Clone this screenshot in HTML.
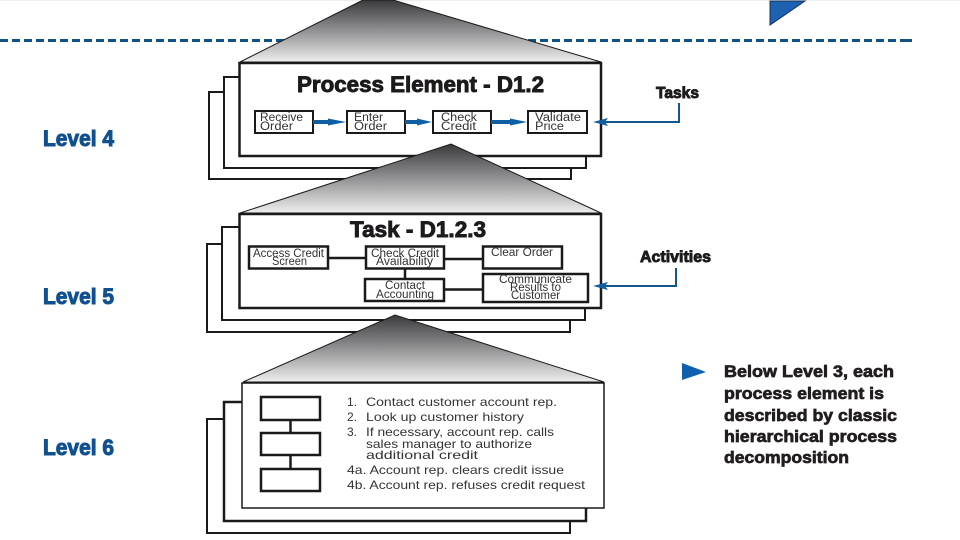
<!DOCTYPE html>
<html>
<head>
<meta charset="utf-8">
<style>
html,body{margin:0;padding:0;background:#fff}
svg{display:block}
text{font-family:"Liberation Sans",sans-serif}
.lv{font-size:22px;font-weight:bold;fill:#10508f;stroke:#10508f;stroke-width:1}
.t{font-weight:bold;fill:#1c1a1c;stroke:#1c1a1c;stroke-width:.9}
.s{font-size:11.5px;fill:#333}
.l{font-size:12px;fill:#333}
.r{font-size:17px;font-weight:bold;fill:#221e20;stroke:#221e20;stroke-width:.7}
</style>
</head>
<body>
<svg width="960" height="540" viewBox="0 0 960 540" xmlns="http://www.w3.org/2000/svg">
<defs>
<linearGradient id="g" x1="0" y1="0" x2="0" y2="1">
<stop offset="0" stop-color="#3a3a3c"/>
<stop offset=".5" stop-color="#929294"/>
<stop offset="1" stop-color="#eeeeee"/>
</linearGradient>
</defs>
<rect width="960" height="540" fill="#fff"/>
<rect x="0" y="0" width="960" height="1" fill="#eee"/>

<line x1="0" y1="40.5" x2="912" y2="40.5" stroke="#0f5287" stroke-width="3" stroke-dasharray="8 4"/>
<rect x="904" y="39" width="8" height="3" fill="#0f5287"/>
<polygon points="770,1 805,1 770,25" fill="#1c62b0" stroke="#17335c" stroke-width="1"/>

<text class="lv" x="43" y="146" textLength="71" lengthAdjust="spacingAndGlyphs">Level 4</text>
<text class="lv" x="43" y="304" textLength="71" lengthAdjust="spacingAndGlyphs">Level 5</text>
<text class="lv" x="43" y="455" textLength="71" lengthAdjust="spacingAndGlyphs">Level 6</text>

<!-- Level 4 stack -->
<g fill="#fff" stroke="#1a1a1a">
<rect x="209" y="92" width="362" height="87" stroke-width="2"/>
<rect x="224" y="77" width="362" height="91" stroke-width="2"/>
<rect x="239.500" y="63" width="361.500" height="93" stroke-width="2.500"/>
</g>
<polygon points="240,62 363,0 393,0 601,62" fill="url(#g)" stroke="#1a1a1a" stroke-width="1"/>
<text class="t" x="297" y="92" font-size="22" textLength="247" lengthAdjust="spacingAndGlyphs">Process Element - D1.2</text>
<g fill="#fff" stroke="#1a1a1a" stroke-width="2">
<rect x="255" y="111" width="58" height="22"/>
<rect x="347" y="111" width="58" height="22"/>
<rect x="433" y="111" width="58" height="22"/>
<rect x="528" y="111" width="59" height="22"/>
</g>
<g class="s">
<text class="s" x="260" y="121" textLength="43" lengthAdjust="spacingAndGlyphs">Receive</text>
<text class="s" x="260" y="130" textLength="33" lengthAdjust="spacingAndGlyphs">Order</text>
<text class="s" x="354" y="121" textLength="29" lengthAdjust="spacingAndGlyphs">Enter</text>
<text class="s" x="354" y="130" textLength="33" lengthAdjust="spacingAndGlyphs">Order</text>
<text class="s" x="441" y="121" textLength="36" lengthAdjust="spacingAndGlyphs">Check</text>
<text class="s" x="441" y="130" textLength="35" lengthAdjust="spacingAndGlyphs">Credit</text>
<text class="s" x="535" y="121" textLength="46" lengthAdjust="spacingAndGlyphs">Validate</text>
<text class="s" x="535" y="130" textLength="29" lengthAdjust="spacingAndGlyphs">Price</text>
</g>
<g fill="#0f5fa5">
<polygon points="313,120 328,120 328,118.500 346,122 328,125.500 328,124 313,124"/>
<polygon points="405,120 417,120 417,118.500 432,122 417,125.500 417,124 405,124"/>
<polygon points="491,120 510,120 510,118.500 527,122 510,125.500 510,124 491,124"/>
</g>

<!-- Level 5 stack -->
<g fill="#fff" stroke="#1a1a1a">
<rect x="207" y="244" width="363" height="88" stroke-width="2"/>
<rect x="222" y="227" width="363" height="93" stroke-width="2"/>
<rect x="239.500" y="214" width="361.500" height="94" stroke-width="2.500"/>
</g>
<polygon points="240,213 451,144 601,213" fill="url(#g)" stroke="#1a1a1a" stroke-width="1"/>
<text class="t" x="350" y="237" font-size="22" textLength="136" lengthAdjust="spacingAndGlyphs">Task - D1.2.3</text>
<g stroke="#1a1a1a" stroke-width="2.500" fill="none">
<line x1="328" y1="258" x2="366" y2="258"/>
<line x1="444" y1="259" x2="483" y2="259"/>
<line x1="405" y1="269" x2="405" y2="279"/>
<line x1="444" y1="289.500" x2="483" y2="289.500"/>
</g>
<g fill="#fff" stroke="#1a1a1a" stroke-width="2.500">
<rect x="249" y="246.500" width="79" height="22"/>
<rect x="366" y="246.500" width="78" height="22"/>
<rect x="483" y="246.500" width="79" height="22"/>
<rect x="365" y="279" width="79" height="22"/>
<rect x="483" y="274" width="105" height="28"/>
</g>
<text class="s" x="253" y="257" textLength="71" lengthAdjust="spacingAndGlyphs">Access Credit</text>
<text class="s" x="272" y="265" textLength="35" lengthAdjust="spacingAndGlyphs">Screen</text>
<text class="s" x="371" y="257" textLength="68" lengthAdjust="spacingAndGlyphs">Check Credit</text>
<text class="s" x="376" y="265" textLength="57" lengthAdjust="spacingAndGlyphs">Availability</text>
<text class="s" x="491" y="256" textLength="62" lengthAdjust="spacingAndGlyphs">Clear Order</text>
<text class="s" x="385" y="289" textLength="40" lengthAdjust="spacingAndGlyphs">Contact</text>
<text class="s" x="376" y="298" textLength="58" lengthAdjust="spacingAndGlyphs">Accounting</text>
<text class="s" x="499" y="283" textLength="73" lengthAdjust="spacingAndGlyphs">Communicate</text>
<text class="s" x="510" y="291" textLength="51" lengthAdjust="spacingAndGlyphs">Results to</text>
<text class="s" x="511" y="299" textLength="49" lengthAdjust="spacingAndGlyphs">Customer</text>

<!-- Level 6 stack -->
<g fill="#fff" stroke="#1a1a1a">
<rect x="207" y="419" width="363" height="114" stroke-width="2"/>
<rect x="224" y="402" width="362" height="119" stroke-width="2.500"/>
<rect x="242" y="383" width="362" height="125" stroke-width="1.500"/>
</g>
<polygon points="243,382 395,315 604,382" fill="url(#g)" stroke="#1a1a1a" stroke-width="1"/>
<g stroke="#1a1a1a" stroke-width="2.500">
<line x1="290.500" y1="420" x2="290.500" y2="433"/>
<line x1="290.500" y1="455" x2="290.500" y2="469"/>
</g>
<g fill="#fff" stroke="#1a1a1a" stroke-width="2.500">
<rect x="261" y="397" width="59" height="23"/>
<rect x="261" y="433" width="59" height="22"/>
<rect x="261" y="469" width="59" height="22"/>
</g>
<text class="l" x="347" y="406">1.</text>
<text class="l" x="366" y="406" textLength="191" lengthAdjust="spacingAndGlyphs">Contact customer account rep.</text>
<text class="l" x="347" y="421">2.</text>
<text class="l" x="366" y="421" textLength="158" lengthAdjust="spacingAndGlyphs">Look up customer history</text>
<text class="l" x="347" y="436">3.</text>
<text class="l" x="366" y="436" textLength="188" lengthAdjust="spacingAndGlyphs">If necessary, account rep. calls</text>
<text class="l" x="366" y="448" textLength="166" lengthAdjust="spacingAndGlyphs">sales manager to authorize</text>
<text class="l" x="366" y="459" textLength="112" lengthAdjust="spacingAndGlyphs">additional credit</text>
<text class="l" x="347" y="474" textLength="217" lengthAdjust="spacingAndGlyphs">4a. Account rep. clears credit issue</text>
<text class="l" x="347" y="489" textLength="238" lengthAdjust="spacingAndGlyphs">4b. Account rep. refuses credit request</text>

<!-- Callouts -->
<text class="t" x="656" y="98" font-size="16" textLength="43" lengthAdjust="spacingAndGlyphs">Tasks</text>
<polyline points="679,103 679,122 602,122" fill="none" stroke="#14578a" stroke-width="2"/>
<polygon points="593,122 608,118 605,122 608,126" fill="#0f5fa5"/>
<text class="t" x="640" y="262" font-size="16" textLength="71" lengthAdjust="spacingAndGlyphs">Activities</text>
<polyline points="676,268 676,286 602,286" fill="none" stroke="#14578a" stroke-width="2"/>
<polygon points="593,286 608,282 605,286 608,290" fill="#0f5fa5"/>

<polygon points="682,363 706,372 682,380" fill="#0f5fb0"/>
<text class="r" x="724" y="377" textLength="170" lengthAdjust="spacingAndGlyphs">Below Level 3, each</text>
<text class="r" x="724" y="399" textLength="160" lengthAdjust="spacingAndGlyphs">process element is</text>
<text class="r" x="724" y="421" textLength="173" lengthAdjust="spacingAndGlyphs">described by classic</text>
<text class="r" x="724" y="442" textLength="173" lengthAdjust="spacingAndGlyphs">hierarchical process</text>
<text class="r" x="724" y="463" textLength="125" lengthAdjust="spacingAndGlyphs">decomposition</text>
</svg>
</body>
</html>
